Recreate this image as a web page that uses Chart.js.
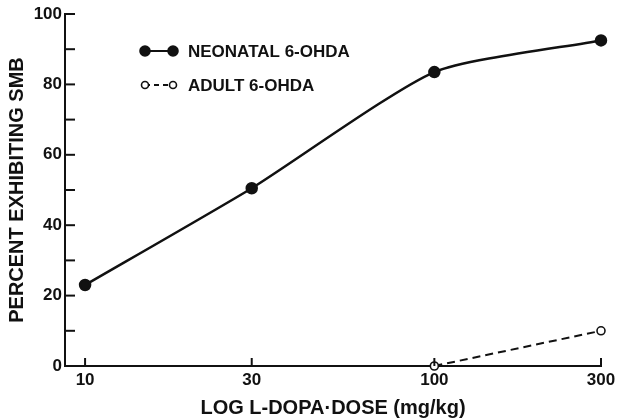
<!DOCTYPE html>
<html>
<head>
<meta charset="utf-8">
<script src="https://cdn.jsdelivr.net/npm/chart.js@4/dist/chart.umd.min.js"></script>
<style>
  html, body { margin: 0; padding: 0; background: #fff; }
  #wrap { width: 624px; height: 420px; }
</style>
</head>
<body>
<div id="wrap"><canvas id="smb-chart" width="624" height="420"></canvas></div>
<script>
const doses       = [10, 30, 100, 300];
const neonatalPct = [23, 50.5, 83.5, 92.5];
const adultDoses  = [100, 300];
const adultPct    = [0, 10];
const yTicks      = [0, 20, 40, 60, 80, 100];

const FONT = "'Liberation Sans', Arial, sans-serif";
const INK  = "#111";

// tick marks drawn on the inside of the axes, like the original figure
const innerTicks = {
  id: "innerTicks",
  afterDraw(chart) {
    const { ctx, chartArea, scales } = chart;
    ctx.save();
    ctx.strokeStyle = INK;
    ctx.lineWidth = 2;
    for (let v = 10; v <= 100; v += 10) {
      const y = scales.y.getPixelForValue(v);
      ctx.beginPath();
      ctx.moveTo(chartArea.left, y);
      ctx.lineTo(chartArea.left + 10, y);
      ctx.stroke();
    }
    for (const v of doses) {
      const x = scales.x.getPixelForValue(v);
      ctx.beginPath();
      ctx.moveTo(x, chartArea.bottom);
      ctx.lineTo(x, chartArea.bottom - 8);
      ctx.stroke();
    }
    ctx.restore();
  },
};

// legend sits inside the plot, top left
const innerLegend = {
  id: "innerLegend",
  afterDraw(chart) {
    const { ctx, chartArea } = chart;
    const x0 = chartArea.left + 80;
    const rows = [
      { y: chartArea.top + 37, ds: chart.data.datasets[0], r: 5 },
      { y: chartArea.top + 71, ds: chart.data.datasets[1], r: 3.5 },
    ];
    ctx.save();
    for (const row of rows) {
      ctx.strokeStyle = INK;
      ctx.lineWidth = 2;
      ctx.setLineDash(row.ds.borderDash ? [5, 4] : []);
      ctx.beginPath();
      ctx.moveTo(x0, row.y);
      ctx.lineTo(x0 + 28, row.y);
      ctx.stroke();
      ctx.setLineDash([]);
      for (const px of [x0, x0 + 28]) {
        ctx.beginPath();
        ctx.arc(px, row.y, row.r, 0, Math.PI * 2);
        ctx.fillStyle = row.ds.pointBackgroundColor;
        ctx.fill();
        ctx.lineWidth = 1.6;
        ctx.stroke();
      }
      ctx.fillStyle = INK;
      ctx.font = `bold 17px ${FONT}`;
      ctx.textBaseline = "middle";
      ctx.fillText(row.ds.label, x0 + 43, row.y + 1);
    }
    ctx.restore();
  },
};

new Chart(document.getElementById("smb-chart"), {
  type: "line",
  data: {
    datasets: [
      {
        label: "NEONATAL 6-OHDA",
        data: doses.map((x, i) => ({ x, y: neonatalPct[i] })),
        borderColor: INK,
        borderWidth: 2.5,
        pointRadius: 5,
        pointBackgroundColor: INK,
        pointBorderColor: INK,
        tension: 0.2,
        clip: false,
      },
      {
        label: "ADULT 6-OHDA",
        data: adultDoses.map((x, i) => ({ x, y: adultPct[i] })),
        borderColor: INK,
        borderWidth: 2,
        borderDash: [8, 5],
        pointRadius: 4,
        pointBorderWidth: 1.6,
        pointBackgroundColor: "#fff",
        pointBorderColor: INK,
        clip: false,
      },
    ],
  },
  options: {
    responsive: false,
    animation: false,
    layout: { padding: { top: 14, right: 23, left: 0, bottom: 0 } },
    plugins: { legend: { display: false }, tooltip: { enabled: false } },
    scales: {
      x: {
        type: "logarithmic",
        min: 8.76,
        max: 300,
        afterBuildTicks(scale) { scale.ticks = doses.map(v => ({ value: v })); },
        afterFit(scale) { scale.height = 54; },
        ticks: {
          color: INK,
          font: { family: FONT, size: 17, weight: "bold" },
          padding: 4,
          maxRotation: 0,
          autoSkip: false,
          callback: v => String(v),
        },
        grid: { display: false, drawTicks: false },
        border: { display: true, color: INK, width: 2 },
        title: {
          display: true,
          text: "LOG L-DOPA·DOSE (mg/kg)",
          color: INK,
          font: { family: FONT, size: 20, weight: "bold" },
          padding: { top: 1, bottom: 0 },
        },
      },
      y: {
        min: 0,
        max: 100,
        afterBuildTicks(scale) { scale.ticks = yTicks.map(v => ({ value: v })); },
        afterFit(scale) { scale.width = 65; },
        ticks: {
          color: INK,
          font: { family: FONT, size: 17, weight: "bold" },
          padding: 3,
        },
        grid: { display: false, drawTicks: false },
        border: { display: true, color: INK, width: 2 },
        title: {
          display: true,
          text: "PERCENT EXHIBITING SMB",
          color: INK,
          font: { family: FONT, size: 20, weight: "bold" },
          padding: { top: 5, bottom: 0 },
        },
      },
    },
  },
  plugins: [innerTicks, innerLegend],
});
</script>
</body>
</html>
